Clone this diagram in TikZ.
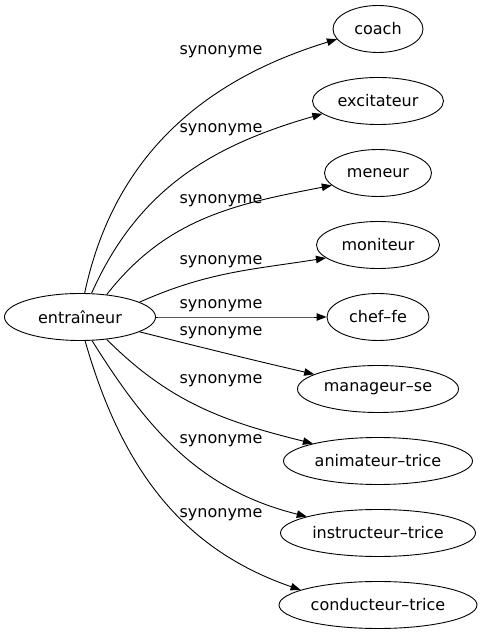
\documentclass[tikz,border=0pt]{standalone}
\usepackage{fontspec}
\setmainfont{DejaVu Sans}
\usetikzlibrary{arrows.meta,positioning,shapes.geometric}
\tikzset{
  wordNode/.style={ellipse,draw,line width=0.9pt,minimum width=#1,
                   minimum height=47pt,inner sep=0pt,
                   font=\fontsize{16}{19}\selectfont},
  synArrow/.style={-{Triangle[length=10pt,width=7.5pt]},line width=0.9pt},
  synLabel/.style={font=\fontsize{16}{19}\selectfont,inner sep=0pt},
}
\begin{document}
\begin{tikzpicture}[x=1pt,y=1pt,node distance=24.1pt]
  \useasboundingbox (0,0) rectangle (483,635);
  \node[wordNode=151pt](entr) at (80,318){entraîneur};
  \node[wordNode=90pt](coach) at (378,606){coach};
  \node[wordNode=131pt,below=of coach](excit){excitateur};
  \node[wordNode=107pt,below=of excit](meneur){meneur};
  \node[wordNode=123pt,below=of meneur](monit){moniteur};
  \node[wordNode=102pt,below=of monit](chef){chef–fe};
  \node[wordNode=161pt,below=of chef](manag){manageur–se};
  \node[wordNode=189pt,below=of manag](anim){animateur–trice};
  \node[wordNode=195pt,below=of anim](instr){instructeur–trice};
  \node[wordNode=198pt,below=of instr](cond){conducteur–trice};
  % start anchor / out / in / end anchor
  \foreach \t/\a/\o/\i/\b in {coach/79/78/197/194,excit/64/66/196/193,
      meneur/40/52/191/195,monit/14/24/189/194,chef/0/0/180/180,
      manag/-14/-14/167/167,anim/-40/-45/166/165,instr/-63/-58/166/167,
      cond/-78/-74/161/169}{
    \draw[synArrow](entr.\a)to[out=\o,in=\i](\t.\b);}
  \foreach \y in {583,505,434,373,329,302,254,194,120}{
    \node[synLabel](lbl\y) at (221,\y){synonyme};}
\end{tikzpicture}
\end{document}
